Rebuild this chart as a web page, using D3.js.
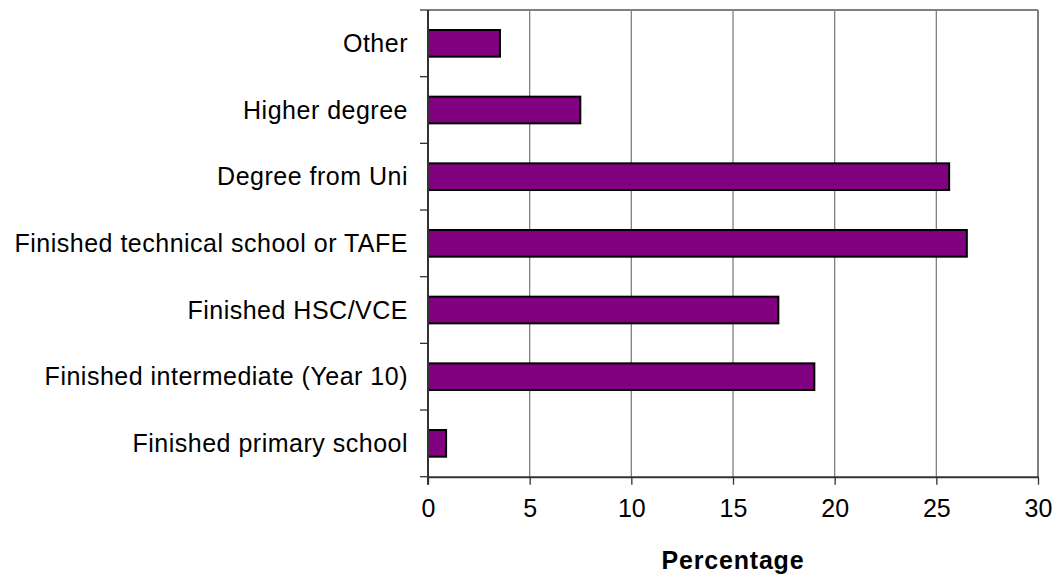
<!DOCTYPE html>
<html><head><meta charset="utf-8">
<script src="https://cdn.jsdelivr.net/npm/d3@7"></script>
<style>body{margin:0;background:#fff;}svg{display:block;font-family:Arial,"Liberation Sans",sans-serif;}</style>
</head><body>
<svg id="c" width="1057" height="579"></svg>
<script>
const categories = ["Other","Higher degree","Degree from Uni","Finished technical school or TAFE","Finished HSC/VCE","Finished intermediate (Year 10)","Finished primary school"];
const values = [3.54, 7.49, 25.63, 26.5, 17.23, 19.0, 0.89];
const xTicks = [0,5,10,15,20,25,30];
const xTitle = "Percentage";

const svg = d3.select("#c");
const L = 428, R = 1038, T = 10, B = 476.7;
const x = d3.scaleLinear().domain([0,30]).range([L,R]);
const y = d3.scaleBand().domain(categories).range([T,B]).paddingInner(0.6).paddingOuter(0.3);
const yb = d3.scaleBand().domain(categories).range([T,B]);

// gridlines
svg.append("g").selectAll("line").data(xTicks.slice(1)).join("line")
  .attr("x1",d=>x(d)).attr("x2",d=>x(d)).attr("y1",T).attr("y2",B)
  .attr("stroke","#808080").attr("stroke-width",d=>d===30?2:1.3);
svg.append("line").attr("x1",L).attr("x2",R).attr("y1",T).attr("y2",T)
  .attr("stroke","#808080").attr("stroke-width",2);

// bars
svg.append("g").selectAll("rect").data(categories).join("rect")
  .attr("x",x(0)).attr("y",d=>y(d)).attr("width",(d,i)=>x(values[i])-x(0)).attr("height",y.bandwidth())
  .attr("fill","#800080").attr("stroke","#000").attr("stroke-width",2);

// x axis
const xa = svg.append("g").attr("transform",`translate(0,${B})`)
  .call(d3.axisBottom(x).tickValues(xTicks).tickSize(8).tickPadding(15).tickSizeOuter(0));
xa.select(".domain").attr("stroke","#333").attr("stroke-width",2);
xa.selectAll(".tick line").attr("stroke","#333").attr("stroke-width",1.3);
xa.selectAll("text").attr("font-size",25).attr("fill","#000").attr("font-family","Arial,'Liberation Sans',sans-serif");

// y axis
svg.append("line").attr("x1",L).attr("x2",L).attr("y1",T).attr("y2",B+8).attr("stroke","#333").attr("stroke-width",2);
const bounds = categories.map(c=>yb(c)).concat([B]);
svg.append("g").selectAll("line").data(bounds).join("line")
  .attr("x1",L-8).attr("x2",L).attr("y1",d=>d).attr("y2",d=>d).attr("stroke","#333").attr("stroke-width",1.3);
svg.append("g").selectAll("text").data(categories).join("text")
  .attr("x",L-20).attr("y",d=>y(d)+y.bandwidth()/2).attr("dy","0.35em")
  .attr("text-anchor","end").attr("font-size",25).attr("letter-spacing","0.5px").attr("fill","#000").text(d=>d);

svg.append("text").attr("x",(L+R)/2).attr("y",569).attr("text-anchor","middle")
  .attr("font-size",25).attr("letter-spacing","0.8px").attr("font-weight","bold").attr("fill","#000").text(xTitle);
</script>
</body></html>
